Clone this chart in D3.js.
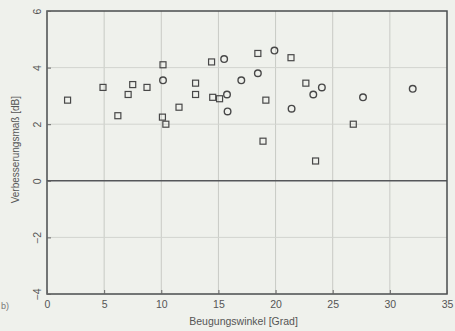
<!DOCTYPE html>
<html>
<head>
<meta charset="utf-8">
<script src="https://cdn.jsdelivr.net/npm/d3@7"></script>
<style>
  body { margin: 0; background: #eff1ec; }
  svg { display: block; font-family: "Liberation Sans", Arial, sans-serif; }
</style>
</head>
<body>
<div id="chart"></div>
<script>
const squarePoints = [
  [1.8, 2.85], [4.9, 3.3], [6.2, 2.3], [7.1, 3.05], [7.5, 3.4], [8.75, 3.3],
  [10.15, 4.1], [10.1, 2.25], [10.4, 2.0], [11.55, 2.6], [13.0, 3.45], [13.0, 3.05],
  [14.4, 4.2], [14.5, 2.95], [15.1, 2.9], [18.45, 4.5], [19.15, 2.85], [18.9, 1.4],
  [21.35, 4.35], [22.65, 3.45], [23.5, 0.7], [26.8, 2.0]
];
const circlePoints = [
  [10.15, 3.55], [15.5, 4.3], [15.75, 3.05], [15.8, 2.45], [17.0, 3.55], [18.45, 3.8],
  [19.9, 4.6], [21.4, 2.55], [23.3, 3.05], [24.05, 3.3], [27.65, 2.95], [32.0, 3.25]
];
const xTicks = [0, 5, 10, 15, 20, 25, 30, 35];
const yTicks = [-4, -2, 0, 2, 4, 6];
const xLabel = "Beugungswinkel [Grad]";
const yLabel = "Verbesserungsmaß [dB]";

const width = 455, height = 331;
const margin = { top: 11, right: 8, bottom: 37, left: 47 };

const svg = d3.select("#chart").append("svg")
  .attr("width", width)
  .attr("height", height);

const x = d3.scaleLinear().domain([0, 35]).range([margin.left, width - margin.right]);
const y = d3.scaleLinear().domain([-4, 6]).range([height - margin.bottom, margin.top]);

// grid
svg.append("g")
  .selectAll("line")
  .data(xTicks.slice(1, -1))
  .enter().append("line")
  .attr("x1", d => x(d)).attr("x2", d => x(d))
  .attr("y1", y(6)).attr("y2", y(-4))
  .attr("stroke", "#c8cac5").attr("stroke-width", 1);

svg.append("g")
  .selectAll("line")
  .data(yTicks.slice(1, -1))
  .enter().append("line")
  .attr("x1", x(0)).attr("x2", x(35))
  .attr("y1", d => y(d)).attr("y2", d => y(d))
  .attr("stroke", d => d === 0 ? "#55575a" : "#d2d4cf")
  .attr("stroke-width", d => d === 0 ? 1.6 : 1);

// frame
svg.append("rect")
  .attr("x", x(0)).attr("y", y(6))
  .attr("width", x(35) - x(0)).attr("height", y(-4) - y(6))
  .attr("fill", "none")
  .attr("stroke", "#4a4c4e")
  .attr("stroke-width", 1.5);

// axes
const xAxis = svg.append("g")
  .attr("transform", `translate(0,${y(-4)})`)
  .call(d3.axisBottom(x).tickValues(xTicks).tickSize(-4).tickPadding(7));
const yAxis = svg.append("g")
  .attr("transform", `translate(${x(0)},0)`)
  .call(d3.axisLeft(y).tickValues(yTicks).tickSize(-4).tickPadding(4));

[xAxis, yAxis].forEach(a => {
  a.select(".domain").remove();
  a.selectAll(".tick line").attr("stroke", "#666");
  a.selectAll("text").attr("fill", "#555").attr("font-size", 10.5);
});
yAxis.selectAll("text")
  .attr("transform", "rotate(-90)")
  .attr("x", 0).attr("dy", 0).attr("y", -6)
  .attr("text-anchor", "middle");

svg.append("text")
  .attr("x", x(17.2)).attr("y", height - 6)
  .attr("text-anchor", "middle")
  .attr("font-size", 10.5).attr("fill", "#555")
  .text(xLabel);

svg.append("text")
  .attr("transform", `translate(19,${y(1.1)}) rotate(-90)`)
  .attr("text-anchor", "middle")
  .attr("font-size", 10).attr("fill", "#555")
  .text(yLabel);

// panel marker at the left edge
svg.append("text")
  .attr("x", 1).attr("y", 309)
  .attr("font-size", 9).attr("fill", "#777")
  .text("b)");

// markers
svg.append("g")
  .selectAll("rect")
  .data(squarePoints)
  .enter().append("rect")
  .attr("x", d => x(d[0]) - 3).attr("y", d => y(d[1]) - 3)
  .attr("width", 6).attr("height", 6)
  .attr("fill", "none").attr("stroke", "#484848").attr("stroke-width", 1.2);

svg.append("g")
  .selectAll("circle")
  .data(circlePoints)
  .enter().append("circle")
  .attr("cx", d => x(d[0])).attr("cy", d => y(d[1]))
  .attr("r", 3.3)
  .attr("fill", "none").attr("stroke", "#484848").attr("stroke-width", 1.4);
</script>
</body>
</html>
